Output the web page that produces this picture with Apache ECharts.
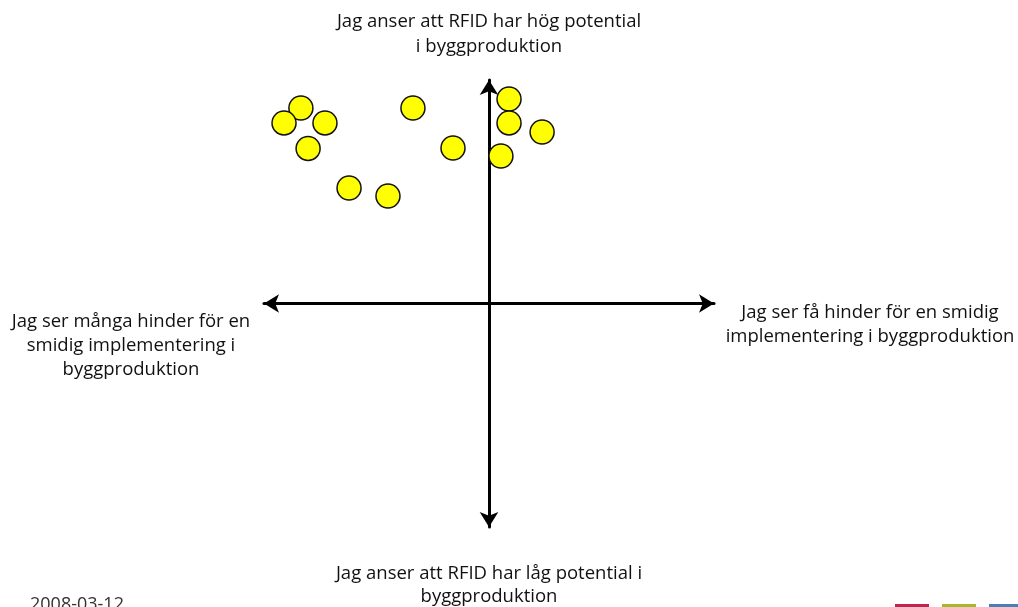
<!DOCTYPE html>
<html>
<head>
<meta charset="utf-8">
<script src="https://cdn.jsdelivr.net/npm/echarts@6/dist/echarts.min.js"></script>
<style>
html,body{margin:0;padding:0;background:#fff;}
#main{width:1018px;height:607px;}
</style>
</head>
<body>
<div id="main"></div>
<script>
// Data, axis range -10..10
const xValues = [-8.36, -9.11, -7.29, -8.04, -3.38, -1.60, -6.22, -4.49, 0.89, 0.89, 2.36, 0.53];
const yValues = [8.75, 8.08, 8.08, 6.94, 8.75, 6.96, 5.17, 4.81, 9.15, 8.08, 7.67, 6.60];
const topLabel = ['Jag anser att RFID har hög potential', 'i byggproduktion'];
const bottomLabel = ['Jag anser att RFID har låg potential i', 'byggproduktion'];
const leftLabel = ['Jag ser många hinder för en', 'smidig implementering i', 'byggproduktion'];
const rightLabel = ['Jag ser få hinder för en smidig', 'implementering i byggproduktion'];
const dateLabel = '2008-03-12';

const points = xValues.map((x, i) => [x, yValues[i]]);
const font = '"Open Sans", "Noto Sans", sans-serif';
const txtStyle = (lines, x, y, lh) => ({
  type: 'text', x: x, y: y,
  style: { text: lines.join('\n'), fill: '#111', font: '18.5px ' + font, lineHeight: lh || 24, textAlign: 'center', textVerticalAlign: 'top' }
});

const chart = echarts.init(document.getElementById('main'), null, {renderer: 'canvas'});
chart.setOption({
  backgroundColor: '#ffffff',
  animation: false,
  grid: { left: 264, right: 304, top: 80, bottom: 80 },
  xAxis: {
    type: 'value', min: -10, max: 10,
    axisLine: { onZero: true, lineStyle: { color: '#000', width: 3 }, symbol: ['arrow', 'arrow'], symbolSize: [14, 15] },
    axisTick: { show: false }, axisLabel: { show: false }, splitLine: { show: false }
  },
  yAxis: {
    type: 'value', min: -10, max: 10,
    axisLine: { onZero: true, lineStyle: { color: '#000', width: 3 }, symbol: ['arrow', 'arrow'], symbolSize: [14, 15] },
    axisTick: { show: false }, axisLabel: { show: false }, splitLine: { show: false }
  },
  series: [{
    type: 'scatter',
    data: points,
    symbol: 'circle',
    symbolSize: 24,
    z: 5,
    itemStyle: { color: '#FFFF00', borderColor: '#111', borderWidth: 1.5, opacity: 1 }
  }],
  graphic: [
    txtStyle(topLabel, 489, 9, 25),
    txtStyle(bottomLabel, 489, 562, 23),
    txtStyle(leftLabel, 131, 310, 24),
    txtStyle(rightLabel, 870, 301, 24),
    { type: 'text', x: 30, y: 596, style: { text: dateLabel, fill: '#333', font: '18px ' + font, textAlign: 'left', textVerticalAlign: 'top' } },
    { type: 'rect', shape: { x: 895, y: 604, width: 34, height: 3 }, style: { fill: '#c0254f' } },
    { type: 'rect', shape: { x: 942, y: 604, width: 34, height: 3 }, style: { fill: '#a4b82a' } },
    { type: 'rect', shape: { x: 989, y: 604, width: 29, height: 3 }, style: { fill: '#4a7fb5' } }
  ]
});
</script>
</body>
</html>
